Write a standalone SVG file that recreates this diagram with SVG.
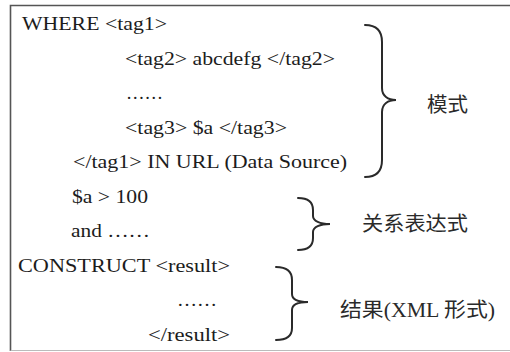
<svg xmlns="http://www.w3.org/2000/svg" width="510" height="352" viewBox="0 0 510 352">
  <style>
    .code { font-family: "Liberation Serif", "Times New Roman", serif; font-size: 19px; fill: #1c1c1c; }
    .label { font-family: "Liberation Serif", "Noto Sans CJK SC", serif; font-size: 20px; fill: #2a2a2a; }
    .brace { fill: none; stroke: #2a2a2a; stroke-width: 2; stroke-linecap: round; }
    .frame { fill: none; stroke: #555; stroke-width: 1.6; }
  </style>
  <rect width="510" height="352" fill="#ffffff"/>

  <!-- frame: left and top rules, faint bottom rule -->
  <g id="frame">
    <path class="frame" d="M10.5,351 L10.5,5.5 L510,5.5"/>
    <path d="M10.5,350.5 L510,350.5" stroke="#bbb" stroke-width="1" fill="none"/>
  </g>

  <!-- query text -->
  <g id="pattern">
    <text class="code" x="22" y="30" textLength="145" lengthAdjust="spacingAndGlyphs">WHERE &lt;tag1&gt;</text>
    <text class="code" x="125" y="65" textLength="210" lengthAdjust="spacingAndGlyphs">&lt;tag2&gt; abcdefg &lt;/tag2&gt;</text>
    <text class="code" x="126" y="99" textLength="37" lengthAdjust="spacingAndGlyphs">……</text>
    <text class="code" x="125" y="134" textLength="162" lengthAdjust="spacingAndGlyphs">&lt;tag3&gt; $a &lt;/tag3&gt;</text>
    <text class="code" x="73" y="168" textLength="274" lengthAdjust="spacingAndGlyphs">&lt;/tag1&gt; IN URL (Data Source)</text>
  </g>
  <g id="condition">
    <text class="code" x="72" y="203" textLength="76" lengthAdjust="spacingAndGlyphs">$a &gt; 100</text>
    <text class="code" x="71" y="237" textLength="79" lengthAdjust="spacingAndGlyphs">and ……</text>
  </g>
  <g id="construct">
    <text class="code" x="18" y="272" textLength="212" lengthAdjust="spacingAndGlyphs">CONSTRUCT &lt;result&gt;</text>
    <text class="code" x="177" y="306" textLength="40" lengthAdjust="spacingAndGlyphs">……</text>
    <text class="code" x="148" y="341" textLength="82" lengthAdjust="spacingAndGlyphs">&lt;/result&gt;</text>
  </g>

  <!-- braces grouping each section -->
  <g id="connectors">
    <path class="brace" d="M365,25 C376,25 382,30 382,42 L382,88 C382,96 388,100 396,100 C388,100 382,104 382,112 L382,160 C382,172 376,177 365,177"/>
    <path class="brace" d="M298,198 C308,198 313,202 313,210 L313,216 C313,221 320,224 330,224 C320,224 313,227 313,232 L313,238 C313,246 308,250 298,250"/>
    <path class="brace" d="M276,267 C286,267 292,271 292,280 L292,294 C292,299 298,302 308,302 C298,302 292,305 292,310 L292,328 C292,336 286,340 276,340"/>
  </g>

  <!-- section labels -->
  <g id="label-pattern">
    <text class="label" x="427" y="112" textLength="41" lengthAdjust="spacingAndGlyphs">模式</text>
  </g>
  <g id="label-condition">
    <text class="label" x="362" y="231" textLength="106" lengthAdjust="spacingAndGlyphs">关系表达式</text>
  </g>
  <g id="label-result">
    <text class="label" x="340" y="317" textLength="155" lengthAdjust="spacingAndGlyphs">结果(XML 形式)</text>
  </g>
</svg>
